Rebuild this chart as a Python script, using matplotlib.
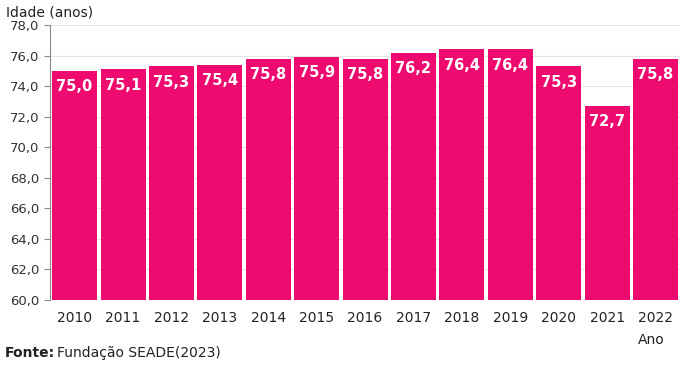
import matplotlib.pyplot as plt

anos = ['2010', '2011', '2012', '2013', '2014', '2015', '2016',
        '2017', '2018', '2019', '2020', '2021', '2022']
idade = [75.0, 75.1, 75.3, 75.4, 75.8, 75.9, 75.8, 76.2, 76.4, 76.4, 75.3, 72.7, 75.8]
yticks = [60, 62, 64, 66, 68, 70, 72, 74, 76, 78]

cor = '#EE0A6F'

fig = plt.figure(figsize=(7, 3.68), dpi=100)
ax = fig.add_axes([0.072, 0.185, 0.899, 0.747])

x = range(len(anos))
ax.bar(x, idade, width=0.93, color=cor, zorder=2)
for i, v in zip(x, idade):
    ax.text(i, v - 0.55, f'{v:.1f}'.replace('.', ','), ha='center', va='top',
            color='white', fontsize=10.5, fontweight='bold', zorder=3)

ax.set_ylim(60, 78)
ax.set_xlim(-0.5, len(anos) - 0.5)
ax.set_yticks(yticks)
ax.set_yticklabels([f'{t:.1f}'.replace('.', ',') for t in yticks], fontsize=9.5, color='#333333')
ax.set_xticks(list(x))
ax.set_xticklabels(anos, fontsize=10, color='#222222')
ax.tick_params(axis='x', length=0, pad=8)
ax.tick_params(axis='y', length=4, color='#888888', pad=4)
ax.grid(axis='y', color='#e6e6e6', linewidth=0.8, zorder=0)

for s in ['top', 'right', 'bottom']:
    ax.spines[s].set_visible(False)
ax.spines['left'].set_color('#888888')

fig.text(0.008, 0.965, 'Idade (anos)', fontsize=10, color='#222222', va='center')
fig.text(0.93, 0.075, 'Ano', fontsize=10, color='#222222', va='center', ha='center')
fig.text(0.007, 0.04, 'Fonte:', fontsize=10, fontweight='bold', color='#222222', va='center')
fig.text(0.082, 0.04, 'Fundação SEADE(2023)', fontsize=10, color='#222222', va='center')

fig.savefig('out.png', dpi=100)
